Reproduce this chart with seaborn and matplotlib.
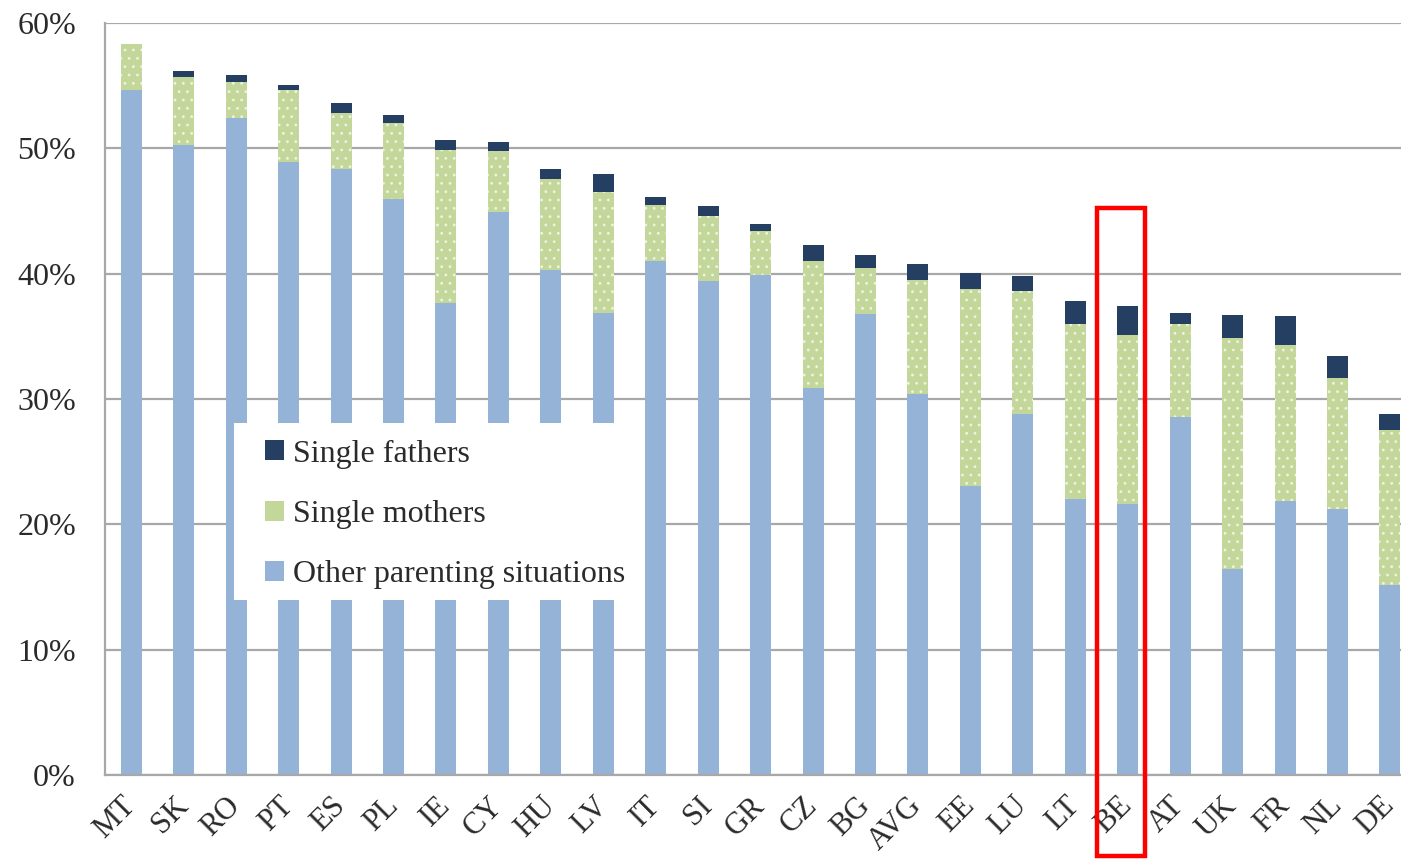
import numpy as np
import matplotlib
matplotlib.use("Agg")
import matplotlib.pyplot as plt
import seaborn as sns
from matplotlib.patches import Patch, Rectangle

countries = ["MT", "SK", "RO", "PT", "ES", "PL", "IE", "CY", "HU", "LV", "IT", "SI", "GR",
             "CZ", "BG", "AVG", "EE", "LU", "LT", "BE", "AT", "UK", "FR", "NL", "DE"]
other = [54.7, 50.3, 52.4, 48.9, 48.4, 46.0, 37.7, 44.9, 40.3, 36.9, 41.0, 39.4, 39.9,
         30.9, 36.8, 30.4, 23.1, 28.8, 22.0, 21.6, 28.6, 16.4, 21.9, 21.2, 15.2]
mothers = [3.6, 5.4, 2.9, 5.8, 4.4, 6.0, 12.2, 4.9, 7.3, 9.6, 4.5, 5.2, 3.5,
           10.1, 3.7, 9.1, 15.7, 9.8, 14.0, 13.5, 7.4, 18.5, 12.4, 10.5, 12.3]
fathers = [0.0, 0.5, 0.6, 0.4, 0.8, 0.7, 0.8, 0.7, 0.8, 1.5, 0.6, 0.8, 0.6,
           1.3, 1.0, 1.3, 1.3, 1.2, 1.8, 2.3, 0.9, 1.8, 2.3, 1.7, 1.3]
legend_labels = ["Single fathers", "Single mothers", "Other parenting situations"]
yticks = [0, 10, 20, 30, 40, 50, 60]
highlight = "BE"

C_OTHER = "#95B3D7"
C_MOTHERS = "#C4D79B"
C_FATHERS = "#243F62"
GRID = "#A8A8A8"
TEXT = "#2a2a2a"
DOTS = "#EEF3E2"

sns.set_style("white")
plt.rcParams["font.family"] = ["Liberation Serif", "DejaVu Serif"]
plt.rcParams["hatch.color"] = DOTS
plt.rcParams["hatch.linewidth"] = 0.8

fig = plt.figure(figsize=(14.01, 8.59), dpi=100)
ax = fig.add_axes([0.075, 0.0978, 0.925, 0.8752])

o = np.array(other)
m = np.array(mothers)
f = np.array(fathers)
tot_om = o + m
tot = o + m + f

sns.barplot(x=countries, y=tot, color=C_FATHERS, saturation=1, width=0.4,
            linewidth=0, ax=ax)
sns.barplot(x=countries, y=tot_om, color=C_MOTHERS, saturation=1, width=0.4,
            linewidth=0, edgecolor=DOTS, hatch="..", ax=ax)
sns.barplot(x=countries, y=o, color=C_OTHER, saturation=1, width=0.4,
            linewidth=0, ax=ax)

n = len(countries)
ax.set_xlim(-0.5, n - 1 + 0.21)
ax.set_ylim(0, 60)
ax.set_yticks(yticks)
ax.set_yticklabels([f"{v}%" for v in yticks], fontsize=23, color=TEXT)
ax.yaxis.grid(True, color=GRID, linewidth=1.6)
ax.xaxis.grid(False)
ax.set_axisbelow(True)

ax.set_xticks(range(n))
ax.set_xticklabels(countries, rotation=45, ha="right", va="center",
                   rotation_mode="anchor", fontsize=22, color=TEXT)
ax.tick_params(axis="x", which="major", length=0, pad=19)
ax.set_xticks(np.arange(-0.5, n - 0.5, 1.0), minor=True)
ax.tick_params(axis="x", which="minor", length=8, width=1.4, color=GRID, direction="out")
ax.tick_params(axis="y", which="major", length=9, width=1.4, color=GRID, direction="out", pad=12)
ax.set_xlabel("")
ax.set_ylabel("")

for side in ["top", "right"]:
    ax.spines[side].set_visible(False)
for side in ["left", "bottom"]:
    ax.spines[side].set_color(GRID)
    ax.spines[side].set_linewidth(1.6)

# white legend panel
panel = Rectangle((0.0995, 0.233), 0.3175, 0.235, transform=ax.transAxes,
                  facecolor="white", edgecolor="none", zorder=4)
ax.add_patch(panel)

handles = [Patch(facecolor=C_FATHERS, edgecolor="none"),
           Patch(facecolor=C_MOTHERS, edgecolor="none"),
           Patch(facecolor=C_OTHER, edgecolor="none")]
leg = ax.legend(handles, legend_labels, loc="upper left", bbox_to_anchor=(0.1235, 0.446),
                borderaxespad=0, frameon=False, fontsize=23,
                handlelength=0.58, handleheight=0.58, handletextpad=0.3,
                labelspacing=0.98, borderpad=0)
leg.set_zorder(5)
for t in leg.get_texts():
    t.set_color(TEXT)

bi = countries.index(highlight)
rect = Rectangle((bi - 0.58, -6.5), 0.91, 51.75, fill=False, edgecolor="red",
                 linewidth=3.2, clip_on=False, zorder=10)
ax.add_patch(rect)

fig.savefig("out.png", dpi=100)
